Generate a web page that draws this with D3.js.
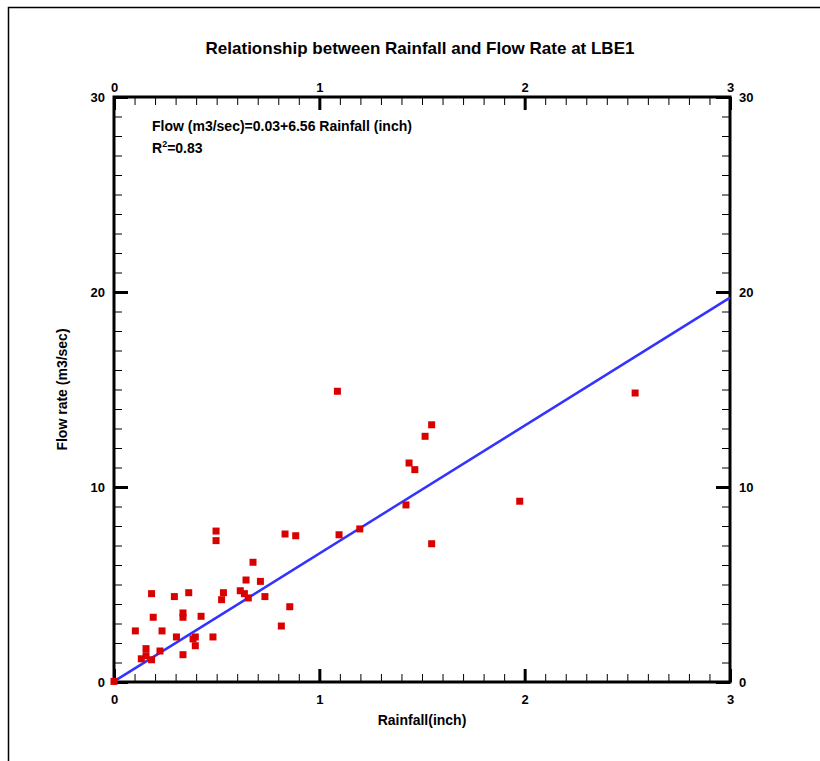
<!DOCTYPE html>
<html>
<head>
<meta charset="utf-8">
<script src="https://cdn.jsdelivr.net/npm/d3@7/dist/d3.min.js"></script>
<style>
  html, body { margin: 0; padding: 0; background: #fff; }
  svg text { font-family: "Liberation Sans", Arial, Helvetica, sans-serif; font-weight: bold; fill: #000; }
</style>
</head>
<body>
<svg id="chart" width="820" height="761"></svg>
<script>
// Storm events: rainfall depth (inch) and observed flow rate (m3/sec)
const rainfall = [0.00, 0.104, 0.133, 0.156, 0.156, 0.183, 0.183, 0.191, 0.224, 0.234,
                  0.294, 0.304, 0.336, 0.336, 0.336, 0.364, 0.385, 0.396, 0.396, 0.424,
                  0.482, 0.497, 0.497, 0.524, 0.533, 0.615, 0.635, 0.643, 0.654, 0.677,
                  0.713, 0.735, 0.815, 0.833, 0.856, 0.885, 1.088, 1.096, 1.197, 1.422,
                  1.437, 1.465, 1.515, 1.547, 1.547, 1.976, 2.538];
const flow     = [0.03, 2.62, 1.19, 1.35, 1.71, 1.14, 4.53, 3.32, 1.59, 2.62,
                  4.38, 2.31, 1.40, 3.54, 3.32, 4.58, 2.21, 2.31, 1.86, 3.37,
                  2.31, 7.74, 7.25, 4.22, 4.58, 4.68, 4.53, 5.23, 4.31, 6.14,
                  5.16, 4.38, 2.87, 7.59, 3.86, 7.50, 14.91, 7.55, 7.85, 9.08,
                  11.23, 10.89, 12.60, 13.19, 7.09, 9.27, 14.82];

// Least-squares fit reported on the chart
const intercept = 0.03;
const slope = 6.56;
const rSquared = "0.83";

const xTicks = [0, 1, 2, 3];
const yTicks = [0, 10, 20, 30];

const titleText = "Relationship between Rainfall and Flow Rate at LBE1";
const xTitle = "Rainfall(inch)";
const yTitle = "Flow rate (m3/sec)";
const eqText = "Flow (m3/sec)=0.03+6.56 Rainfall (inch)";

const svg = d3.select("#chart");

const plotL = 114, plotR = 730, plotT = 97, plotB = 682;
const x = d3.scaleLinear().domain([0, 3]).range([plotL, plotR]);
const y = d3.scaleLinear().domain([0, 30]).range([plotB, plotT]);

// page frame
svg.append("path")
  .attr("d", "M8.5,761 L8.5,7.5 L820,7.5")
  .attr("fill", "none").attr("stroke", "#000").attr("stroke-width", 1.5);

// title
svg.append("text")
  .attr("x", 420).attr("y", 54)
  .attr("text-anchor", "middle")
  .style("font-size", "17px")
  .text(titleText);

const xMinor = d3.range(0, 31).map(i => i / 10).filter(v => xTicks.indexOf(v) < 0);
const yMinor = d3.range(0, 31).filter(v => yTicks.indexOf(v) < 0);

function styleAxis(g) {
  g.select(".domain").remove();
  g.selectAll(".tick line").attr("stroke", "#000").attr("stroke-width", 3);
  g.selectAll(".tick text").style("font-size", "13px").style("font-family", "'Liberation Sans', Arial, sans-serif").style("font-weight", "bold");
}

// major ticks with labels (inward)
svg.append("g").attr("transform", `translate(0,${plotB})`)
  .call(d3.axisBottom(x).tickValues(xTicks).tickFormat(d3.format("d")).tickSizeInner(-13).tickSizeOuter(0).tickPadding(13))
  .call(styleAxis);
svg.append("g").attr("transform", `translate(0,${plotT})`)
  .call(d3.axisTop(x).tickValues(xTicks).tickFormat(d3.format("d")).tickSizeInner(-13).tickSizeOuter(0).tickPadding(5))
  .call(styleAxis);
svg.append("g").attr("transform", `translate(${plotL},0)`)
  .call(d3.axisLeft(y).tickValues(yTicks).tickFormat(d3.format("d")).tickSizeInner(-14).tickSizeOuter(0).tickPadding(9))
  .call(styleAxis);
svg.append("g").attr("transform", `translate(${plotR},0)`)
  .call(d3.axisRight(y).tickValues(yTicks).tickFormat(d3.format("d")).tickSizeInner(-14).tickSizeOuter(0).tickPadding(9))
  .call(styleAxis);

// minor ticks (inward, no labels)
function minorAxis(axis) {
  return g => { g.call(axis); g.select(".domain").remove(); g.selectAll("text").remove(); g.selectAll(".tick line").attr("stroke", "#000").attr("stroke-width", 1); };
}
svg.append("g").attr("transform", `translate(0,${plotB})`)
  .call(minorAxis(d3.axisBottom(x).tickValues(xMinor).tickSizeInner(-8).tickSizeOuter(0)));
svg.append("g").attr("transform", `translate(0,${plotT})`)
  .call(minorAxis(d3.axisTop(x).tickValues(xMinor).tickSizeInner(-8).tickSizeOuter(0)));
svg.append("g").attr("transform", `translate(${plotL},0)`)
  .call(minorAxis(d3.axisLeft(y).tickValues(yMinor).tickSizeInner(-8).tickSizeOuter(0)));
svg.append("g").attr("transform", `translate(${plotR},0)`)
  .call(minorAxis(d3.axisRight(y).tickValues(yMinor).tickSizeInner(-8).tickSizeOuter(0)));

// plot frame
svg.append("rect")
  .attr("x", plotL).attr("y", plotT)
  .attr("width", plotR - plotL).attr("height", plotB - plotT)
  .attr("fill", "none").attr("stroke", "#000").attr("stroke-width", 3);

// axis titles
svg.append("text")
  .attr("x", x(1.5)).attr("y", 725)
  .attr("text-anchor", "middle")
  .style("font-size", "14px")
  .text(xTitle);
svg.append("text")
  .attr("transform", `translate(67,${y(15)}) rotate(-90)`)
  .attr("text-anchor", "middle")
  .style("font-size", "14px")
  .text(yTitle);

// regression line
svg.append("line")
  .attr("x1", x(0)).attr("y1", y(intercept))
  .attr("x2", x(3)).attr("y2", y(intercept + slope * 3))
  .attr("stroke", "#3333ff").attr("stroke-width", 2.5);

// observations
const pts = rainfall.map((r, i) => ({ r, f: flow[i] }));
svg.append("g").selectAll("rect").data(pts).join("rect")
  .attr("x", d => x(d.r) - 3.5).attr("y", d => y(d.f) - 3.5)
  .attr("width", 7).attr("height", 7)
  .attr("fill", "#d90000");

// equation and R²
svg.append("text")
  .attr("x", 152).attr("y", 131)
  .style("font-size", "14px")
  .text(eqText);
const r2 = svg.append("text")
  .attr("x", 152).attr("y", 153)
  .style("font-size", "14px");
r2.append("tspan").text("R");
r2.append("tspan").attr("dy", -6).style("font-size", "9px").text("2");
r2.append("tspan").attr("dy", 6).text("=" + rSquared);
</script>
</body>
</html>
